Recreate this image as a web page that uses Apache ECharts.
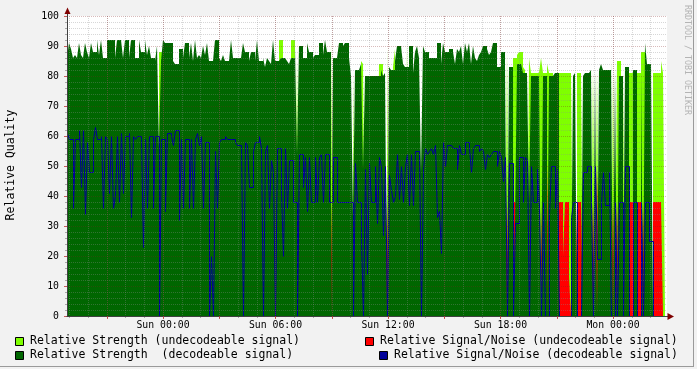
<!DOCTYPE html>
<html>
<head>
<meta charset="utf-8">
<script src="https://cdn.jsdelivr.net/npm/echarts@6/dist/echarts.min.js"></script>
<style>
html,body{margin:0;padding:0;background:#F2F2F2;}
#c{width:697px;height:369px;}
</style>
</head>
<body>
<div id="c"></div>
<script>
// ---- time base (hours relative to Sun 00:00) ----
const START_HOUR = -5.12;
const SPAN_HOURS = 32;
const SAMPLE_COUNT = 300;
const STEP_HOURS = SPAN_HOURS / SAMPLE_COUNT;
const X_MAX = START_HOUR + SPAN_HOURS;

const X_LABEL_HOURS = [0, 6, 12, 18, 24];
const X_LABELS = ['Sun 00:00', 'Sun 06:00', 'Sun 12:00', 'Sun 18:00', 'Mon 00:00'];
const X_MAJOR_HOURS = [-3, 0, 3, 6, 9, 12, 15, 18, 21, 24];
const X_MINOR_HOURS = [-5,-4,-3,-2,-1,0,1,2,3,4,5,6,7,8,9,10,11,12,13,14,15,16,17,18,19,20,21,22,23,24,25,26];

// ---- series values (one per sample) ----
const STRENGTH_DECODE = [
 86,91,89,86,87,86,91,87,86,91,
 88,86,91,88,88,92,87,92,86,86,
 92,92,92,92,86,92,92,92,86,92,
 92,86,92,92,86,86,92,88,88,92,
 87,90,86,86,85,90,56,85,92,91,
 91,91,91,85,84,84,89,89,86,91,
 91,86,91,85,92,86,87,86,90,87,
 91,85,85,85,92,92,86,85,87,85,
 85,85,92,86,86,86,86,86,91,88,
 88,85,88,88,85,92,85,85,86,83,
 86,85,84,92,85,85,85,86,86,86,
 85,84,86,86,89,54,90,90,86,86,
 91,88,88,86,87,87,91,91,87,92,
 88,88,0,86,86,86,91,91,90,91,
 91,86,80,33,82,82,82,84,49,80,
 80,80,80,80,80,80,80,82,80,81,
 0,83,82,82,85,90,90,90,84,83,
 83,90,90,81,88,90,86,48,90,88,
 88,86,86,86,86,91,91,84,91,88,
 88,89,89,88,84,89,88,90,84,91,
 88,91,84,90,86,85,87,88,90,90,
 89,87,88,91,91,83,83,88,88,83,
 0,83,83,0,31,84,84,84,81,81,
 81,38,80,80,80,80,80,0,80,80,
 0,80,80,80,81,81,0,0,0,0,
 0,0,0,80,81,0,0,0,80,81,
 81,81,82,0,82,0,82,84,82,82,
 82,82,85,0,82,0,80,80,0,83,
 83,0,0,82,82,0,0,82,0,91,
 84,84,84,0,0,0,0,0,0,0
];
const STRENGTH_UNDECODE = [
 0,0,0,0,0,0,0,0,0,0,
 0,0,0,0,0,0,0,0,0,0,
 0,0,0,0,0,0,0,0,0,0,
 0,0,0,0,0,0,0,0,0,0,
 0,0,0,0,0,0,88,88,0,0,
 0,0,0,0,0,0,0,0,0,0,
 0,0,0,0,0,0,0,0,0,0,
 0,0,0,0,0,0,0,0,0,0,
 0,0,0,0,0,0,0,0,0,0,
 0,0,0,0,0,0,0,0,0,0,
 0,0,0,0,0,0,92,92,0,0,
 0,0,92,92,0,86,0,0,0,0,
 0,0,0,0,91,0,0,0,0,0,
 90,0,91,0,0,0,0,0,0,0,
 0,0,0,82,0,0,0,85,84,0,
 0,0,0,0,0,0,84,84,0,0,
 90,0,0,83,89,0,0,0,0,0,
 91,0,0,0,0,0,0,0,0,0,
 0,0,0,0,0,0,0,0,0,0,
 0,0,0,0,0,0,0,0,0,0,
 0,0,0,0,0,0,0,0,0,0,
 0,0,0,0,0,0,0,0,0,0,
 88,0,0,86,86,87,88,88,83,82,
 0,86,81,81,81,81,81,86,81,81,
 84,81,81,81,0,0,81,81,81,81,
 81,81,81,0,0,81,81,81,0,0,
 0,0,0,82,0,82,0,0,0,0,
 0,0,0,81,0,85,85,0,81,0,
 0,81,81,0,0,81,81,88,88,0,
 0,0,0,81,81,81,81,85,81,0
];
const SNR_UNDECODE = [
 0,0,0,0,0,0,0,0,0,0,
 0,0,0,0,0,0,0,0,0,0,
 0,0,0,0,0,0,0,0,0,0,
 0,0,0,0,0,0,0,0,0,0,
 0,0,0,0,0,0,59,0,0,0,
 0,0,0,0,0,0,0,0,0,0,
 0,0,0,0,0,0,0,0,0,0,
 0,0,0,0,0,0,0,0,0,0,
 0,0,0,0,0,0,0,0,0,0,
 0,0,0,0,0,0,0,0,0,0,
 0,0,0,0,0,0,0,0,0,0,
 0,0,0,0,0,0,0,0,0,0,
 0,0,0,0,0,0,0,0,0,0,
 0,0,38,0,0,0,0,0,0,0,
 0,0,0,0,0,0,0,0,0,0,
 0,0,0,0,0,0,0,0,0,0,
 38,0,0,0,0,0,0,0,0,0,
 0,0,0,0,0,0,0,0,0,0,
 0,0,0,0,0,0,0,0,0,0,
 0,0,0,0,0,0,0,0,0,0,
 0,0,0,0,0,0,0,0,0,0,
 0,0,0,0,0,0,0,0,0,0,
 38,0,0,38,38,0,0,0,0,0,
 0,0,0,0,0,0,0,38,0,0,
 52,0,0,0,0,0,38,38,20,38,
 38,13,0,0,0,38,38,38,0,0,
 0,0,0,38,0,50,0,0,0,0,
 0,0,0,38,0,38,0,0,38,0,
 0,38,38,0,0,38,38,0,38,0,
 0,0,0,38,38,38,38,38,0,0
];
const SNR_DECODE = [
 61,59,59,36,59,59,62,43,62,34,
 58,48,48,59,63,59,59,60,36,60,
 59,41,60,36,40,60,38,61,41,60,
 60,61,33,60,59,60,60,59,23,59,
 36,60,60,36,60,60,0,59,59,35,
 61,61,60,57,62,62,32,59,36,59,
 59,36,59,36,59,61,57,60,36,58,
 58,0,20,0,55,36,58,59,59,60,
 59,59,59,59,58,57,57,57,0,58,
 57,43,43,55,58,58,60,56,0,55,
 57,36,52,48,0,56,56,41,20,56,
 36,52,52,38,38,0,54,54,43,53,
 35,53,38,38,53,38,53,54,38,54,
 54,38,38,53,53,38,38,38,38,38,
 38,38,38,0,51,38,38,25,0,49,
 14,51,38,38,50,31,53,50,27,50,
 0,47,42,38,40,54,39,50,38,50,
 54,37,54,37,55,55,54,0,49,56,
 54,55,56,54,57,33,35,21,58,50,
 57,57,57,56,56,49,57,54,54,58,
 58,56,48,56,57,57,55,56,55,49,
 54,53,54,55,55,50,55,53,45,53,
 0,51,51,0,31,31,53,53,38,53,
 52,0,50,38,38,49,36,0,38,0,
 0,34,50,50,36,49,0,0,0,0,
 0,0,33,38,38,0,0,0,48,48,
 50,50,38,0,50,19,19,38,48,37,
 37,48,0,0,38,0,38,38,0,50,
 50,0,0,38,38,0,0,38,0,38,
 38,25,25,0,0,0,0,0,0,null
];

const SERIES_NAMES = [
  'Relative Strength (undecodeable signal)',
  'Relative Signal/Noise (undecodeable signal)',
  'Relative Strength  (decodeable signal)',
  'Relative Signal/Noise (decodeable signal)'
];

// ---- styles ----
const MONO = "'DejaVu Sans Mono', monospace";
const C_LIGHT = '#7FFF00';
const C_RED = '#FF0000';
const C_DARK = '#006600';
const C_BLUE = '#000099';
const GRID_MINOR = 'rgba(140,140,140,0.35)';
const GRID_MAJOR = 'rgba(130,30,30,0.30)';
const AXIS_COLOR = '#404040';

function steps(values) {
  const pts = values.map((v, i) => [START_HOUR + i * STEP_HOURS, v]);
  pts.push([START_HOUR + values.length * STEP_HOURS, values[values.length - 1]]);
  return pts;
}
function areaSeries(name, values, color) {
  return {
    name, type: 'line', xAxisIndex: 0, yAxisIndex: 0,
    data: steps(values), step: 'end', symbol: 'none', showSymbol: false,
    lineStyle: { width: 0 }, itemStyle: { color },
    areaStyle: { color, opacity: 1 }, z: 2, silent: true
  };
}

const chart = echarts.init(document.getElementById('c'), null, { renderer: 'canvas', width: 697, height: 369 });

const option = {
  backgroundColor: '#F2F2F2',
  animation: false,
  grid: [
    { left: 67, top: 16, width: 600, height: 300, show: true, backgroundColor: '#FFFFFF', borderWidth: 0 },
    { left: 67.5, top: 16.5, width: 600, height: 300, show: false }
  ],
  xAxis: [
    { type: 'value', gridIndex: 0, min: START_HOUR, max: X_MAX, z: 10, position: 'bottom',
      axisLine: { show: false, onZero: false },
      axisLabel: { show: false },
      axisTick: { show: true, customValues: X_MINOR_HOURS, length: 2, lineStyle: { color: 'rgba(140,140,140,0.7)' } },
      splitLine: { show: true, lineStyle: { color: GRID_MINOR, type: [1, 1], width: 1 } } },
    { type: 'value', gridIndex: 0, min: START_HOUR, max: X_MAX, z: 11, position: 'bottom',
      axisLine: { show: true, onZero: false, lineStyle: { color: AXIS_COLOR, width: 1 } },
      axisTick: { show: true, customValues: X_MAJOR_HOURS, length: 3, lineStyle: { color: 'rgba(190,50,50,0.8)' } },
      axisLabel: { show: true, customValues: X_LABEL_HOURS, margin: 4, fontFamily: MONO, fontSize: 9.8, color: '#000',
        formatter: v => { const k = X_LABEL_HOURS.indexOf(v); return k >= 0 ? X_LABELS[k] : ''; } },
      splitLine: { show: true, lineStyle: { color: GRID_MAJOR, type: [1, 1], width: 1 } } },
    { type: 'value', gridIndex: 1, min: START_HOUR, max: X_MAX, show: false }
  ],
  yAxis: [
    { type: 'value', gridIndex: 0, min: 0, max: 100, interval: 10, z: 10,
      axisLine: { show: true, onZero: false, lineStyle: { color: AXIS_COLOR, width: 1 } },
      axisTick: { show: true, length: 3, lineStyle: { color: 'rgba(190,50,50,0.8)' } },
      minorTick: { show: true, splitNumber: 5, length: 2, lineStyle: { color: 'rgba(140,140,140,0.7)' } },
      axisLabel: { margin: 8, fontFamily: MONO, fontSize: 9.8, color: '#000' },
      splitLine: { show: true, lineStyle: { color: GRID_MAJOR, type: [1, 1], width: 1 } },
      minorSplitLine: { show: true, lineStyle: { color: GRID_MINOR, type: [1, 1], width: 1 } } },
    { type: 'value', gridIndex: 1, min: 0, max: 100, show: false }
  ],
  series: [
    areaSeries(SERIES_NAMES[0], STRENGTH_UNDECODE, C_LIGHT),
    areaSeries(SERIES_NAMES[1], SNR_UNDECODE, C_RED),
    areaSeries(SERIES_NAMES[2], STRENGTH_DECODE, C_DARK),
    { name: SERIES_NAMES[3], type: 'line', xAxisIndex: 2, yAxisIndex: 1,
      data: steps(SNR_DECODE), step: 'end', symbol: 'none', showSymbol: false,
      lineStyle: { width: 1, color: C_BLUE }, itemStyle: { color: C_BLUE }, z: 3, clip: false, silent: true }
  ],
  graphic: [
    // axis extensions and arrows
    { type: 'line', shape: { x1: 67.5, y1: 16, x2: 67.5, y2: 11 }, style: { stroke: AXIS_COLOR, lineWidth: 1 }, z: 100 },
    { type: 'polygon', shape: { points: [[64.5, 14], [70.5, 14], [67.5, 7.5]] }, style: { fill: '#7F0000' }, z: 100 },
    { type: 'line', shape: { x1: 667, y1: 316.5, x2: 669, y2: 316.5 }, style: { stroke: AXIS_COLOR, lineWidth: 1 }, z: 100 },
    { type: 'polygon', shape: { points: [[667.5, 313], [667.5, 320], [674, 316.5]] }, style: { fill: '#7F0000' }, z: 100 },
    // frame shading
    { type: 'rect', shape: { x: 693, y: 0, width: 1, height: 367 }, style: { fill: '#9A9A9A' }, z: 100 },
    { type: 'rect', shape: { x: 0, y: 366, width: 694, height: 1 }, style: { fill: '#9A9A9A' }, z: 100 },
    // y title
    { type: 'text', x: 11, y: 165, rotation: Math.PI / 2,
      style: { text: 'Relative Quality', font: "11.5px 'DejaVu Sans Mono'", fill: '#000', align: 'center', verticalAlign: 'middle' }, z: 100 },
    // watermark
    { type: 'text', x: 687.5, y: 5, rotation: -Math.PI / 2,
      style: { text: 'RRDTOOL / TOBI OETIKER', font: "8.3px 'DejaVu Sans Mono'", fill: '#B4B4B4', align: 'left', verticalAlign: 'middle' }, z: 100 },
    // legend
    { type: 'rect', shape: { x: 15.5, y: 337.5, width: 8, height: 8 }, style: { fill: C_LIGHT, stroke: '#000', lineWidth: 1 }, z: 100 },
    { type: 'text', x: 30, y: 341.5, style: { text: SERIES_NAMES[0], font: "11.5px 'DejaVu Sans Mono'", fill: '#000', align: 'left', verticalAlign: 'middle' }, z: 100 },
    { type: 'rect', shape: { x: 365.5, y: 337.5, width: 8, height: 8 }, style: { fill: C_RED, stroke: '#000', lineWidth: 1 }, z: 100 },
    { type: 'text', x: 380, y: 341.5, style: { text: SERIES_NAMES[1], font: "11.5px 'DejaVu Sans Mono'", fill: '#000', align: 'left', verticalAlign: 'middle' }, z: 100 },
    { type: 'rect', shape: { x: 15.5, y: 351.5, width: 8, height: 8 }, style: { fill: C_DARK, stroke: '#000', lineWidth: 1 }, z: 100 },
    { type: 'text', x: 30, y: 355.5, style: { text: SERIES_NAMES[2], font: "11.5px 'DejaVu Sans Mono'", fill: '#000', align: 'left', verticalAlign: 'middle' }, z: 100 },
    { type: 'rect', shape: { x: 379.5, y: 351.5, width: 8, height: 8 }, style: { fill: C_BLUE, stroke: '#000', lineWidth: 1 }, z: 100 },
    { type: 'text', x: 394, y: 355.5, style: { text: SERIES_NAMES[3], font: "11.5px 'DejaVu Sans Mono'", fill: '#000', align: 'left', verticalAlign: 'middle' }, z: 100 }
  ]
};
chart.setOption(option);
</script>
</body>
</html>
